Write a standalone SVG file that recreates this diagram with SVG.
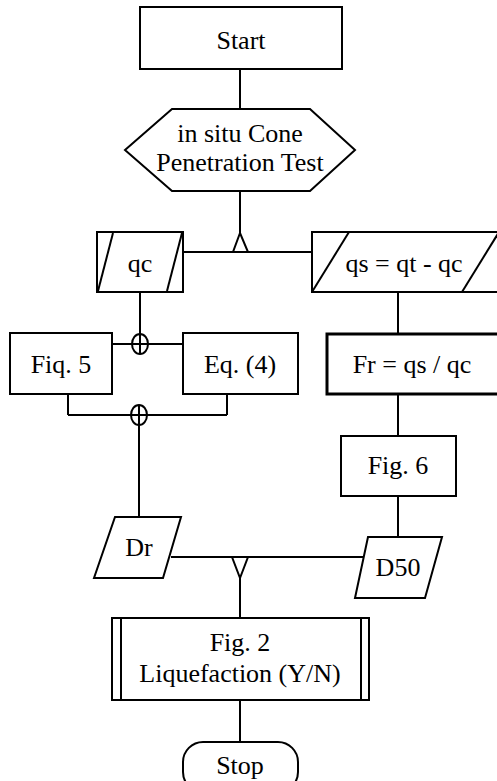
<svg xmlns="http://www.w3.org/2000/svg" width="497" height="781" viewBox="0 0 497 781">
<style>
.s{fill:#fff;stroke:#000;stroke-width:2}
.b{fill:#fff;stroke:#000;stroke-width:3}
.l{fill:none;stroke:#000;stroke-width:2}
.t{font-family:'Liberation Serif','Times New Roman',Times,serif;font-size:26px;fill:#000;text-anchor:middle}
</style>
<g id="connectors">
<line class="l" x1="240" y1="69" x2="240" y2="109"/>
<line class="l" x1="240" y1="191" x2="240" y2="233"/>
<line class="l" x1="183" y1="252" x2="312" y2="252"/>
<polygon class="s" points="240,233 233,252 248,252"/>
<line class="l" x1="140" y1="292" x2="140" y2="354"/>
<line class="l" x1="112" y1="344" x2="183" y2="344"/>
<ellipse class="l" cx="140" cy="344" rx="8" ry="10"/>
<line class="l" x1="68" y1="394" x2="68" y2="415"/>
<line class="l" x1="227" y1="394" x2="227" y2="415"/>
<line class="l" x1="68" y1="415" x2="227" y2="415"/>
<line class="l" x1="139" y1="405" x2="139" y2="517"/>
<ellipse class="l" cx="139" cy="415" rx="8" ry="10"/>
<line class="l" x1="398" y1="292" x2="398" y2="334"/>
<line class="l" x1="398" y1="394" x2="398" y2="436"/>
<line class="l" x1="398" y1="496" x2="398" y2="537"/>
<line class="l" x1="171" y1="557" x2="369" y2="557"/>
<polygon class="s" points="232,557 248,557 240,578"/>
<line class="l" x1="240" y1="578" x2="240" y2="618"/>
<line class="l" x1="240" y1="700" x2="240" y2="742"/>
</g>
<g id="start">
<rect class="s" x="140" y="7" width="202" height="62"/>
<text class="t" x="241" y="49">Start</text>
</g>
<g id="cpt">
<polygon class="s" points="125,150 172,109 310,109 355,150 310,191 172,191"/>
<text class="t" x="240" y="142">in situ Cone</text>
<text class="t" x="240" y="171">Penetration Test</text>
</g>
<g id="qc">
<rect class="s" x="97" y="232" width="86" height="60"/>
<line class="l" x1="98" y1="291" x2="113" y2="233"/>
<line class="l" x1="167" y1="291" x2="182" y2="233"/>
<text class="t" x="140" y="272">qc</text>
</g>
<g id="qs">
<rect class="s" x="312" y="232" width="190" height="60"/>
<line class="l" x1="312" y1="292" x2="349" y2="232"/>
<line class="l" x1="462" y1="292" x2="499" y2="232"/>
<text class="t" x="404" y="272">qs = qt - qc</text>
</g>
<g id="fiq5">
<rect class="s" x="10" y="333" width="102" height="61"/>
<text class="t" x="61" y="373">Fiq. 5</text>
</g>
<g id="eq4">
<rect class="s" x="183" y="333" width="115" height="61"/>
<text class="t" x="240" y="373">Eq. (4)</text>
</g>
<g id="fr">
<rect class="b" x="327" y="334" width="180" height="60"/>
<text class="t" x="412" y="373">Fr = qs / qc</text>
</g>
<g id="fig6">
<rect class="s" x="341" y="436" width="115" height="60"/>
<text class="t" x="398" y="474">Fig. 6</text>
</g>
<g id="dr">
<polygon class="s" points="115,517 181,517 163,578 94,578"/>
<text class="t" x="139" y="556">Dr</text>
</g>
<g id="d50">
<polygon class="s" points="368,537 442,537 425,598 355,598"/>
<text class="t" x="398" y="576">D50</text>
</g>
<g id="fig2">
<rect class="s" x="112" y="618" width="257" height="82"/>
<line class="l" x1="121" y1="618" x2="121" y2="700"/>
<line class="l" x1="361" y1="618" x2="361" y2="700"/>
<text class="t" x="240" y="651">Fig. 2</text>
<text class="t" x="240" y="682">Liquefaction (Y/N)</text>
</g>
<g id="stop">
<rect class="s" x="183" y="742" width="115" height="50" rx="20" ry="20"/>
<text class="t" x="240" y="774">Stop</text>
</g>
</svg>
